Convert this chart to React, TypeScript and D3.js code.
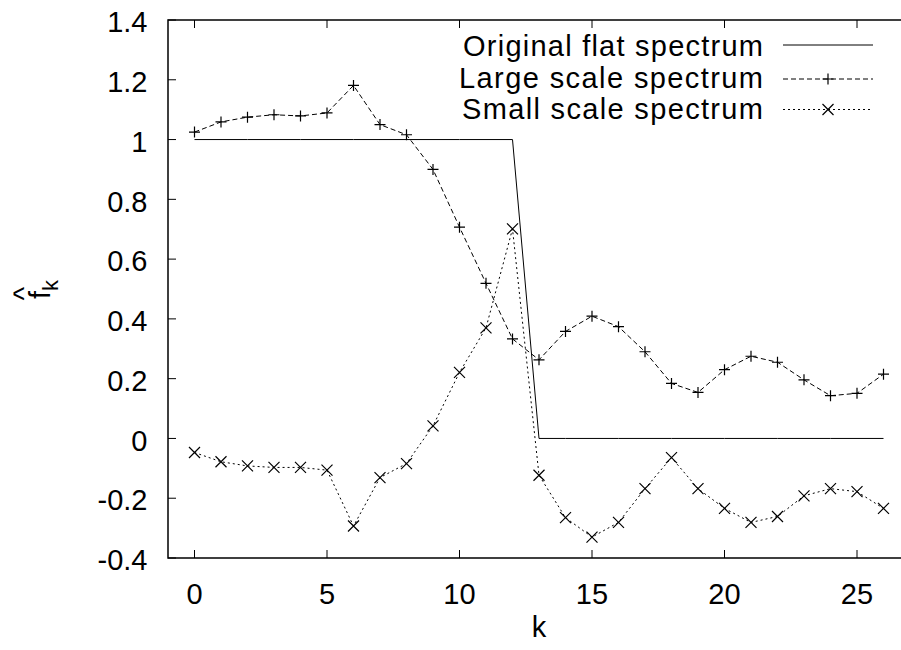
import React from "react";
import * as d3 from "d3";

// Spectrum index
const ks: number[] = d3.range(0, 27);

// Original flat spectrum: unity up to k=12, zero afterwards
const flatSpectrum: number[] = [
  1, 1, 1, 1, 1, 1, 1, 1, 1, 1, 1, 1, 1,
  0, 0, 0, 0, 0, 0, 0, 0, 0, 0, 0, 0, 0, 0,
];

const largeScale: number[] = [
  1.025, 1.059, 1.075, 1.083, 1.079, 1.089, 1.181, 1.05, 1.016, 0.9, 0.707,
  0.519, 0.333, 0.263, 0.358, 0.409, 0.374, 0.29, 0.184, 0.154, 0.23, 0.275,
  0.255, 0.196, 0.143, 0.151, 0.215,
];

const smallScale: number[] = [
  -0.047, -0.078, -0.092, -0.097, -0.097, -0.106, -0.293, -0.131, -0.084,
  0.042, 0.221, 0.37, 0.701, -0.123, -0.265, -0.33, -0.281, -0.168, -0.064,
  -0.168, -0.234, -0.281, -0.261, -0.192, -0.168, -0.178, -0.234,
];

const xTicks: number[] = [0, 5, 10, 15, 20, 25];
const yTicks: number[] = [-0.4, -0.2, 0, 0.2, 0.4, 0.6, 0.8, 1, 1.2, 1.4];

const legendLabels: string[] = [
  "Original flat spectrum",
  "Large scale spectrum",
  "Small scale spectrum",
];

const W = 901;
const H = 650;
const left = 168;
const top = 20;
const bottom = 558;
const FONT = "'Liberation Sans', Arial, Helvetica, sans-serif";
const FS = 29;
const INK = "#000";

export default function App() {
  const x = d3.scaleLinear().domain([-1, 27]).range([left, 910]);
  const y = d3.scaleLinear().domain([-0.4, 1.4]).range([bottom, top]);

  const line = d3
    .line<[number, number]>()
    .x((d) => x(d[0]))
    .y((d) => y(d[1]));

  const flatPath = line(ks.map((k, i) => [k, flatSpectrum[i]]))!;
  const largePath = line(ks.map((k, i) => [k, largeScale[i]]))!;
  const smallPath = line(ks.map((k, i) => [k, smallScale[i]]))!;

  const plusMark = (cx: number, cy: number, key: string | number) => (
    <path
      key={key}
      d={`M${cx - 5.5},${cy}H${cx + 5.5}M${cx},${cy - 5.5}V${cy + 5.5}`}
      stroke={INK}
      strokeWidth={1.2}
      fill="none"
    />
  );
  const crossMark = (cx: number, cy: number, key: string | number) => (
    <path
      key={key}
      d={`M${cx - 5.5},${cy - 5.5}L${cx + 5.5},${cy + 5.5}M${cx - 5.5},${cy + 5.5}L${cx + 5.5},${cy - 5.5}`}
      stroke={INK}
      strokeWidth={1.2}
      fill="none"
    />
  );

  // legend layout: text baselines and sample-line heights
  const legendBase = [55.5, 87.5, 119];
  const legendLineY = [45, 79, 109.5];
  const legendWidths = [300, 304, 301];
  const legendTextX = 763;
  const legendLineX0 = 783;
  const legendLineX1 = 873;
  const legendMidX = (legendLineX0 + legendLineX1) / 2;

  // plain hyphen-minus tick labels
  const fmtY = (t: number) => String(+t.toFixed(1));

  return (
    <svg
      width={W}
      height={H}
      viewBox={`0 0 ${W} ${H}`}
      style={{ position: "absolute", left: 0, top: 0, background: "#fff" }}
      fontFamily={FONT}
    >
      <rect x={0} y={0} width={W} height={H} fill="#fff" />

      {/* y ticks and labels */}
      {yTicks.map((t) => (
        <g key={`y${t}`}>
          <line x1={left} x2={left + 8} y1={y(t)} y2={y(t)} stroke={INK} strokeWidth={1} />
          <text
            x={147.5}
            y={y(t) + 12.2}
            textAnchor="end"
            fontSize={FS}
            fill={INK}
          >
            {fmtY(t)}
          </text>
        </g>
      ))}

      {/* x ticks and labels (mirrored on top) */}
      {xTicks.map((t) => (
        <g key={`x${t}`}>
          <line x1={x(t)} x2={x(t)} y1={bottom} y2={bottom - 8} stroke={INK} strokeWidth={1} />
          <line x1={x(t)} x2={x(t)} y1={top} y2={top + 8} stroke={INK} strokeWidth={1} />
          <text x={x(t)} y={604} textAnchor="middle" fontSize={FS} fill={INK}>
            {t}
          </text>
        </g>
      ))}

      {/* axis titles */}
      <text x={x(13)} y={637} textAnchor="middle" fontSize={FS} fill={INK}>
        k
      </text>
      <g transform="translate(50,299) rotate(-90)">
        <text x={0} y={0} fontSize={FS} fill={INK}>
          f
          <tspan dy={8} fontSize={22}>
            k
          </tspan>
        </text>
        <text x={-1.5} y={-16} fontSize={FS} fill={INK}>
          ^
        </text>
      </g>

      {/* series */}
      <path d={flatPath} fill="none" stroke={INK} strokeWidth={1} />
      <path d={largePath} fill="none" stroke={INK} strokeWidth={1} strokeDasharray="5,3" />
      <path d={smallPath} fill="none" stroke={INK} strokeWidth={1} strokeDasharray="2,3" />
      {ks.map((k, i) => plusMark(x(k), y(largeScale[i]), `p${k}`))}
      {ks.map((k, i) => crossMark(x(k), y(smallScale[i]), `c${k}`))}

      {/* frame */}
      <path
        d={`M${W + 5},${top}H${left}V${bottom}H${W + 5}`}
        fill="none"
        stroke={INK}
        strokeWidth={1.5}
      />

      {/* legend */}
      {legendLabels.map((lab, i) => (
        <g key={lab}>
          <text
            x={legendTextX}
            y={legendBase[i]}
            textAnchor="end"
            fontSize={FS}
            fill={INK}
            textLength={legendWidths[i]}
            lengthAdjust="spacing"
          >
            {lab}
          </text>
          <line
            x1={legendLineX0}
            x2={legendLineX1}
            y1={legendLineY[i]}
            y2={legendLineY[i]}
            stroke={INK}
            strokeWidth={1}
            strokeDasharray={i === 0 ? undefined : i === 1 ? "5,3" : "2,3"}
          />
          {i === 1 && plusMark(legendMidX, legendLineY[i], "lp")}
          {i === 2 && crossMark(legendMidX, legendLineY[i], "lc")}
        </g>
      ))}
    </svg>
  );
}
